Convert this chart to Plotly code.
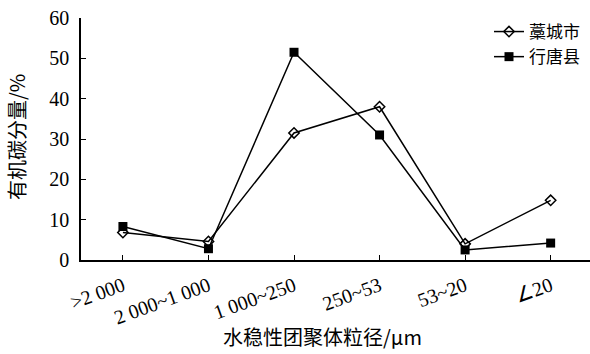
import plotly.graph_objects as go

# Aggregate size classes (μm) and organic-carbon share (%) per site
size_classes = [">2 000", "2 000~1 000", "1 000~250", "250~53", "53~20", "∠20"]
gaocheng = [6.8, 4.6, 31.5, 38.0, 4.0, 14.8]
xingtang = [8.3, 2.8, 51.5, 31.0, 2.5, 4.2]
y_ticks = [0, 10, 20, 30, 40, 50, 60]

SERIF = "Liberation Serif, Times New Roman, serif"
CJK = "Noto Sans CJK SC, sans-serif"

W, H = 590, 354
L, R, T, B = 81, 0, 18, 94

fig = go.Figure()
fig.add_trace(go.Scatter(
    x=list(range(len(size_classes))), y=gaocheng, name="藁城市",
    mode="lines+markers",
    line=dict(color="black", width=1.5),
    marker=dict(symbol="diamond-open", size=8, color="black", line=dict(width=1.5, color="black")),
))
fig.add_trace(go.Scatter(
    x=list(range(len(size_classes))), y=xingtang, name="行唐县",
    mode="lines+markers",
    line=dict(color="black", width=1.5),
    marker=dict(symbol="square", size=9, color="black"),
))

# pixel -> paper helpers for title placement
def px_x(p):
    return (p - L) / (W - L - R)

def px_y(p):
    return (H - B - p) / (H - T - B)

fig.update_layout(
    width=W, height=H,
    margin=dict(l=L, r=R, t=T, b=B),
    paper_bgcolor="white", plot_bgcolor="white",
    font=dict(family=SERIF, size=16, color="black"),
    showlegend=True,
    legend=dict(
        x=px_x(489), y=px_y(14), xanchor="left", yanchor="top",
        bgcolor="rgba(0,0,0,0)", font=dict(family=CJK, size=17, color="black"),
        tracegroupgap=0,
    ),
    xaxis=dict(
        range=[-0.49, 5.46],
        tickmode="array", tickvals=list(range(len(size_classes))), ticktext=size_classes,
        tickangle=-20, ticks="inside", ticklen=5, tickwidth=1, tickcolor="black",
        ticklabelstandoff=5,
        showline=True, linecolor="black", linewidth=1.5, showgrid=False, zeroline=False,
        tickfont=dict(family=SERIF, size=20),
    ),
    yaxis=dict(
        range=[0, 60],
        tickmode="array", tickvals=y_ticks,
        ticks="inside", ticklen=5, tickwidth=1, tickcolor="black",
        ticklabelstandoff=6,
        showline=True, linecolor="black", linewidth=1.5, showgrid=False, zeroline=False,
        tickfont=dict(family=SERIF, size=20),
    ),
    annotations=[
        dict(text="水稳性团聚体粒径/μm", xref="paper", yref="paper",
             x=px_x(322), y=px_y(336), xanchor="center", yanchor="middle",
             showarrow=False, font=dict(family=CJK, size=20, color="black")),
        dict(text="有机碳分量/%", xref="paper", yref="paper",
             x=px_x(16), y=px_y(137), xanchor="center", yanchor="middle",
             textangle=-90, showarrow=False, font=dict(family=CJK, size=20, color="black")),
    ],
)

fig.write_html("out.html")
